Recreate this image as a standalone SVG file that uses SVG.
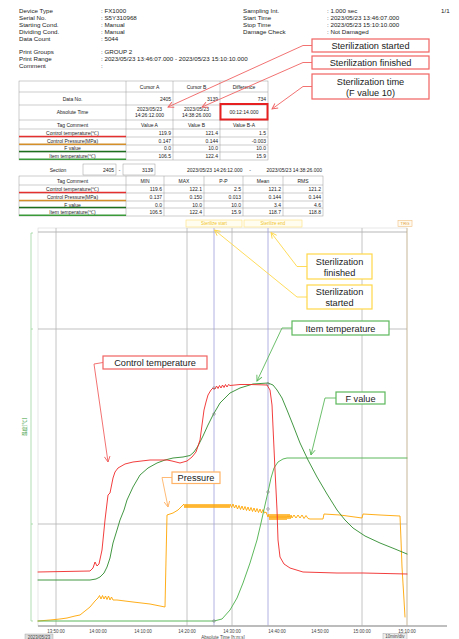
<svg xmlns="http://www.w3.org/2000/svg" width="459" height="639" viewBox="0 0 459 639">
<style>
text{font-family:"Liberation Sans",Arial,sans-serif;fill:#222}
.h{font-size:6.2px}
.t{font-size:5px}
.c{text-anchor:middle}
.r{text-anchor:end}
.tl{stroke:#9a9a9a;stroke-width:0.5;fill:none}
.co{font-size:9.2px;text-anchor:middle}
.bx{fill:#fff;stroke-width:1.2}
.red{stroke:#f06262}
.yel{stroke:#ffd84a}
.grn{stroke:#5cb85c}
.org{stroke:#ffb366}
.ax{font-size:4.5px;fill:#444;text-anchor:middle}
.grid{stroke:#b5b5b5;stroke-width:0.8}
.cur{stroke:#a0a0dc;stroke-width:0.8}
.cv{fill:none;stroke-linejoin:round;stroke-linecap:round}
.dot{fill:none;stroke:#777;stroke-width:0.5}
</style>
<defs>
<marker id="aR" viewBox="0 0 10 10" refX="9" refY="5" markerWidth="7" markerHeight="7" orient="auto" markerUnits="userSpaceOnUse"><path d="M1,1 L9,5 L1,9" fill="none" stroke="#f06262" stroke-width="1.3"/></marker>
<marker id="aY" viewBox="0 0 10 10" refX="9" refY="5" markerWidth="7" markerHeight="7" orient="auto" markerUnits="userSpaceOnUse"><path d="M1,1 L9,5 L1,9" fill="none" stroke="#ffd84a" stroke-width="1.3"/></marker>
<marker id="aG" viewBox="0 0 10 10" refX="9" refY="5" markerWidth="7" markerHeight="7" orient="auto" markerUnits="userSpaceOnUse"><path d="M1,1 L9,5 L1,9" fill="none" stroke="#5cb85c" stroke-width="1.3"/></marker>
<marker id="aO" viewBox="0 0 10 10" refX="9" refY="5" markerWidth="7" markerHeight="7" orient="auto" markerUnits="userSpaceOnUse"><path d="M1,1 L9,5 L1,9" fill="none" stroke="#ffb366" stroke-width="1.3"/></marker>
</defs>

<g id="header">
<text class="h" x="19" y="13">Device Type</text><text class="h" x="101" y="13">:  FX1000</text>
<text class="h" x="19" y="20">Serial No.</text><text class="h" x="101" y="20">:  S5Y310968</text>
<text class="h" x="19" y="27">Starting Cond.</text><text class="h" x="101" y="27">:  Manual</text>
<text class="h" x="19" y="34">Dividing Cond.</text><text class="h" x="101" y="34">:  Manual</text>
<text class="h" x="19" y="41">Data Count</text><text class="h" x="101" y="41">:  5044</text>
<text class="h" x="19" y="54">Print Groups</text><text class="h" x="101" y="54">:  GROUP 2</text>
<text class="h" x="19" y="61">Print Range</text><text class="h" x="101" y="61">:  2023/05/23 13:46:07.000 - 2023/05/23 15:10:10.000</text>
<text class="h" x="19" y="68">Comment</text><text class="h" x="101" y="68">:</text>
<text class="h" x="243" y="13">Sampling Int.</text><text class="h" x="327" y="13">:  1.000 sec</text>
<text class="h" x="243" y="20">Start Time</text><text class="h" x="327" y="20">:  2023/05/23 13:46:07.000</text>
<text class="h" x="243" y="27">Stop Time</text><text class="h" x="327" y="27">:  2023/05/23 15:10:10.000</text>
<text class="h" x="243" y="34">Damage Check</text><text class="h" x="327" y="34">:  Not Damaged</text>
<text class="h" x="441" y="13">1/1</text>
</g>

<g id="cursor-table">
<rect class="tl" x="19" y="81" width="249" height="79"/>
<path class="tl" d="M19,92H268M19,105H268M19,120H268M19,129H268M19,137H268M19,145H268M19,152H268M126,81V160M173,81V160M220,81V160"/>
<text class="t c" x="149.5" y="88.5">Cursor A</text>
<text class="t c" x="196.5" y="88.5">Cursor B</text>
<text class="t c" x="244" y="88.5">Difference</text>
<text class="t c" x="72.5" y="100.5">Data No.</text>
<text class="t r" x="171" y="100.5">2405</text>
<text class="t r" x="218" y="100.5">3139</text>
<text class="t r" x="266" y="100.5">734</text>
<text class="t c" x="72.5" y="114">Absolute Time</text>
<text class="t c" x="149.5" y="111">2023/05/23</text><text class="t c" x="149.5" y="117">14:26:12.000</text>
<text class="t c" x="196.5" y="111">2023/05/23</text><text class="t c" x="196.5" y="117">14:38:26.000</text>
<text class="t c" x="244" y="114">00:12:14.000</text>
<rect x="220.5" y="104" width="47" height="15.5" fill="none" stroke="#e62020" stroke-width="2"/>
<text class="t c" x="72.5" y="126.5">Tag Comment</text>
<text class="t c" x="149.5" y="126.5">Value A</text>
<text class="t c" x="196.5" y="126.5">Value B</text>
<text class="t c" x="244" y="126.5">Value B-A</text>
<text class="t c" x="72.5" y="135">Control temperature(℃)</text>
<text class="t r" x="171" y="135">119.9</text><text class="t r" x="218" y="135">121.4</text><text class="t r" x="266" y="135">1.5</text>
<text class="t c" x="72.5" y="142.5">Control Pressure(MPa)</text>
<text class="t r" x="171" y="142.5">0.147</text><text class="t r" x="218" y="142.5">0.144</text><text class="t r" x="266" y="142.5">-0.003</text>
<text class="t c" x="72.5" y="150">F value</text>
<text class="t r" x="171" y="150">0.0</text><text class="t r" x="218" y="150">10.0</text><text class="t r" x="266" y="150">10.0</text>
<text class="t c" x="72.5" y="158">Item temperature(℃)</text>
<text class="t r" x="171" y="158">106.5</text><text class="t r" x="218" y="158">122.4</text><text class="t r" x="266" y="158">15.9</text>
<line x1="19" y1="136.5" x2="126" y2="136.5" stroke="#e53030" stroke-width="1.5"/>
<line x1="19" y1="144.3" x2="126" y2="144.3" stroke="#d48f2a" stroke-width="1.5"/>
<line x1="19" y1="151.5" x2="126" y2="151.5" stroke="#1d6e1d" stroke-width="1.5"/>
<line x1="19" y1="159.3" x2="126" y2="159.3" stroke="#3a9a3a" stroke-width="1.5"/>
</g>

<g id="section-table">
<text class="t c" x="58" y="171.5">Section</text>
<rect class="tl" x="83" y="164" width="33" height="11"/>
<text class="t r" x="114" y="171.5">2405</text>
<text class="t c" x="119.5" y="171.5">-</text>
<rect class="tl" x="123" y="164" width="32" height="11"/>
<text class="t r" x="153" y="171.5">3139</text>
<text class="t" x="187" y="171.5">2023/05/23 14:26:12.000</text>
<text class="t c" x="250" y="171.5">-</text>
<text class="t r" x="322" y="171.5">2023/05/23 14:38:26.000</text>
<rect class="tl" x="19" y="176" width="304" height="40"/>
<path class="tl" d="M19,185H323M19,193H323M19,201H323M19,208H323M126,176V216M164,176V216M204,176V216M243,176V216M283,176V216"/>
<text class="t c" x="72.5" y="182.5">Tag Comment</text>
<text class="t c" x="145" y="182.5">MIN</text>
<text class="t c" x="184" y="182.5">MAX</text>
<text class="t c" x="223.5" y="182.5">P-P</text>
<text class="t c" x="263" y="182.5">Mean</text>
<text class="t c" x="303" y="182.5">RMS</text>
<text class="t c" x="72.5" y="191">Control temperature(℃)</text>
<text class="t r" x="162" y="191">119.6</text><text class="t r" x="202" y="191">122.1</text><text class="t r" x="241" y="191">2.5</text><text class="t r" x="281" y="191">121.2</text><text class="t r" x="321" y="191">121.2</text>
<text class="t c" x="72.5" y="199">Control Pressure(MPa)</text>
<text class="t r" x="162" y="199">0.137</text><text class="t r" x="202" y="199">0.150</text><text class="t r" x="241" y="199">0.013</text><text class="t r" x="281" y="199">0.144</text><text class="t r" x="321" y="199">0.144</text>
<text class="t c" x="72.5" y="206.5">F value</text>
<text class="t r" x="162" y="206.5">0.0</text><text class="t r" x="202" y="206.5">10.0</text><text class="t r" x="241" y="206.5">10.0</text><text class="t r" x="281" y="206.5">3.4</text><text class="t r" x="321" y="206.5">4.6</text>
<text class="t c" x="72.5" y="214">Item temperature(℃)</text>
<text class="t r" x="162" y="214">106.5</text><text class="t r" x="202" y="214">122.4</text><text class="t r" x="241" y="214">15.9</text><text class="t r" x="281" y="214">118.7</text><text class="t r" x="321" y="214">118.8</text>
<line x1="19" y1="192.5" x2="126" y2="192.5" stroke="#e53030" stroke-width="1.5"/>
<line x1="19" y1="200.5" x2="126" y2="200.5" stroke="#d48f2a" stroke-width="1.5"/>
<line x1="19" y1="207.5" x2="126" y2="207.5" stroke="#1d6e1d" stroke-width="1.5"/>
<line x1="19" y1="215.3" x2="126" y2="215.3" stroke="#3a9a3a" stroke-width="1.5"/>
</g>

<g id="chart">
<rect x="38" y="228" width="369" height="398" fill="none" stroke="#d6d6d6" stroke-width="0.6"/>
<line x1="38" y1="232" x2="407" y2="232" stroke="#999" stroke-width="0.7"/>
<line x1="38" y1="329" x2="407" y2="329" stroke="#999" stroke-width="0.6"/>
<line x1="38" y1="524" x2="407" y2="524" stroke="#999" stroke-width="0.6"/>
<path class="grid" d="M56,228V626M187,228V626M232,228V626M362,228V626"/>
<line x1="407" y1="228" x2="407" y2="626" stroke="#c9b48e" stroke-width="0.8"/>
<path class="cur" d="M214,228V626M268,228V626"/>
<line x1="38" y1="626" x2="447" y2="626" stroke="#aaa" stroke-width="1.4"/>
<path d="M33,233H31V621H33M31,329H33M31,524H33" fill="none" stroke="#9fd49f" stroke-width="0.8"/>
<text x="26" y="427" transform="rotate(-90 26 427)" style="font-family:'Noto Sans CJK JP',sans-serif;font-size:5px;fill:#3a9a3a;text-anchor:middle">温度[℃]</text>
<text class="ax" x="56" y="633">13:50:00</text>
<text class="ax" x="98" y="633">14:00:00</text>
<text class="ax" x="143" y="633">14:10:00</text>
<text class="ax" x="187" y="633">14:20:00</text>
<text class="ax" x="232" y="633">14:30:00</text>
<text class="ax" x="277" y="633">14:40:00</text>
<text class="ax" x="320" y="633">14:50:00</text>
<text class="ax" x="362" y="633">15:00:00</text>
<text class="ax" x="407" y="633">15:10:00</text>
<rect x="25" y="634" width="28" height="6" fill="#ddd" stroke="#999" stroke-width="0.4"/>
<text class="ax" x="39" y="638.5">2023/05/23</text>
<text class="ax" x="223" y="638.5">Absolute Time [h:m:s]</text>
<rect x="383" y="633.5" width="24" height="6" fill="#eee" stroke="#999" stroke-width="0.4"/>
<text class="ax" x="395" y="638.3">10min/div</text>
<rect x="186" y="220" width="56" height="7" fill="#fffdf0" stroke="#ffe27a" stroke-width="0.6"/>
<text x="214" y="225.3" style="font-size:4.5px;fill:#f2c52a;text-anchor:middle">Sterilize start</text>
<rect x="244" y="220" width="58" height="7" fill="#fffdf0" stroke="#ffe27a" stroke-width="0.6"/>
<text x="273" y="225.3" style="font-size:4.5px;fill:#f2c52a;text-anchor:middle">Sterilize end</text>
<rect x="398" y="220.5" width="14" height="6" fill="#fffaf0" stroke="#f0c080" stroke-width="0.6"/>
<text x="405" y="225.2" style="font-size:4.2px;fill:#e0a040;text-anchor:middle">TRG</text>

<polyline class="cv" stroke="#ffa500" stroke-width="0.9" points="38,621 50,620 60,619 67,618 75,616 80,615 85,611 90,607 95,601 98,598 99.5,595.5 101,599 102.5,595.5 104,599 105.5,596 107,599.5 108.5,596 110,600 111.5,597 113,600 117,600 133,602 150,604 165,607 166,560 167,515 173,513 178,510 181,507 184,504 185,508 186,504 187,508 188,504 189,508 190,504 191,508 192,504 193,508 194,504 195,508 196,504 197,508 198,504 199,508 200,504 201,508 202,504 203,508 204,504 205,508 206,504 207,508 208,504 209,508 210,504 211,508 212,504 213,508 214,504 215,508 216,504 217,508 218,504 219,508 220,504 221,508 222,504 223,508 224,504 225,508 226,504 227,508 228,504 229,508 230,504 231.5,507.5 233,504 234.5,508 236,505 237.5,509 239,505.5 240.5,509.5 242,506 243.5,510 245,506.5 246.5,510.5 248,507 249.5,511 251,507.5 252.5,511.5 254,508 255.5,512 257,508.5 258.5,512.5 260,509 261.5,513 263,509.5 264.5,513 266,512 268,517 269,514 270,520 271,514 272,520 273,514 274,520 275,514 276,520 277,514 278,520 279,514 280,520 281,514 282,520 283,514 284,520 285,514 286,520 287,514 288,519 289,514 290,519 291,515 292,518 294,515 296,518 298,515 300,518 302,515 304,518.5 306,515.5 308,518.5 310,519 323,519 324,514 340,515 362,518 363,514 380,515 400,516 401,540 402,567 404,600 405,617"/>

<polyline class="cv" stroke="#5cb85c" stroke-width="1" points="38,621 214,621 222,619 230,610 237,598 243,583 250,563 257,540 261,523 265,505 268,492 271,478 274,468 278,462 283,459 287,458 407,458"/>

<polyline class="cv" stroke="#2e8b2e" stroke-width="0.9" points="38,580 90,580 96,579 100,577 104,573 107,567 110,558 113,543 117,530 120,520 124,510 127,500 133,487 140,475 148,468 157,463 165,460 173,458 183,457 190,455.5 194,452 198,446 203,436 208,425 213,415 220,403 230,393 240,388 253,384 268,383 273,385 277,390 282,398 287,410 293,425 300,443 308,460 317,477 327,494 337,510 345,520 353,528 365,536 380,543 395,549 407,554"/>

<polyline class="cv" stroke="#f02828" stroke-width="0.9" points="38,572 90,571 93,568 95,562 97,566 99,564 102,550 105,520 108,495 110,493 113,478 115,472 118,468 125,464 133,462 150,460 167,460 172,461 180,463 187,461 192,457 196,452 200,440 202,425 204,410 206,402 208,395 211,390 213,388 215,389 216.5,386 218,388.5 219.5,385.5 221,388 222.5,385 224,387.5 225.5,384.5 227,387 228.5,384.5 230,385.5 240,384.5 250,384.5 267,385 270,390 272,405 273,427 275,470 277,510 278,540 280,557 284,564 290,568 303,572 337,573 363,573 407,574"/>

<circle class="dot" cx="214" cy="388" r="1.3"/>
<circle class="dot" cx="214" cy="414" r="1.3"/>
<circle class="dot" cx="214" cy="621" r="1.3"/>
<circle class="dot" cx="268" cy="384" r="1.3"/>
<circle class="dot" cx="268" cy="492" r="1.3"/>
<circle class="dot" cx="268" cy="509" r="1.3"/>
</g>

<g id="connectors" fill="none" stroke-width="0.9">
<polyline stroke="#f06262" points="312,45.5 303,45.5 168,107" marker-end="url(#aR)"/>
<polyline stroke="#f06262" points="312,62.5 303,62.5 202,107" marker-end="url(#aR)"/>
<polyline stroke="#f06262" points="312,86.5 303,86.5 272,109" marker-end="url(#aR)"/>
<polyline stroke="#ffd84a" points="307,266.5 297,266.5 271,232.5" marker-end="url(#aY)"/>
<polyline stroke="#ffd84a" points="307,297 297,297 214.5,230" marker-end="url(#aY)"/>
<polyline stroke="#5cb85c" points="292,328 282,328 257,381" marker-end="url(#aG)"/>
<polyline stroke="#f06262" points="103,362.5 94,364 108,462" marker-end="url(#aR)"/>
<polyline stroke="#ffb366" points="172,477.5 162,477.5 168,507" marker-end="url(#aO)"/>
<polyline stroke="#5cb85c" points="336,398 325,398 311,455" marker-end="url(#aG)"/>
</g>

<g id="n-ster-started">
<rect class="bx red" x="312" y="39" width="117" height="13"/>
<text class="co" x="370.5" y="49">Sterilization started</text>
</g>
<g id="n-ster-finished">
<rect class="bx red" x="312" y="56" width="117" height="13"/>
<text class="co" x="370.5" y="66">Sterilization finished</text>
</g>
<g id="n-ster-time">
<rect class="bx red" x="312" y="74" width="117" height="25"/>
<text class="co" x="370.5" y="84.5">Sterilization time</text>
<text class="co" x="370.5" y="95.5">(F value 10)</text>
</g>
<g id="n-chart-finished">
<rect class="bx yel" x="307" y="254" width="65" height="25"/>
<text class="co" x="339.5" y="264.5">Sterilization</text>
<text class="co" x="339.5" y="275.5">finished</text>
</g>
<g id="n-chart-started">
<rect class="bx yel" x="307" y="285" width="65" height="24"/>
<text class="co" x="339.5" y="295">Sterilization</text>
<text class="co" x="339.5" y="306">started</text>
</g>
<g id="n-item-temp">
<rect class="bx grn" x="292" y="321" width="97" height="14"/>
<text class="co" x="340.5" y="331.5">Item temperature</text>
</g>
<g id="n-control-temp">
<rect class="bx red" x="103" y="356" width="104" height="13"/>
<text class="co" x="155" y="366">Control temperature</text>
</g>
<g id="n-pressure">
<rect class="bx org" x="172" y="472" width="48" height="11.5"/>
<text class="co" x="196" y="481">Pressure</text>
</g>
<g id="n-fvalue">
<rect class="bx grn" x="336" y="392" width="49" height="12"/>
<text class="co" x="360.5" y="401.5">F value</text>
</g>
</svg>
